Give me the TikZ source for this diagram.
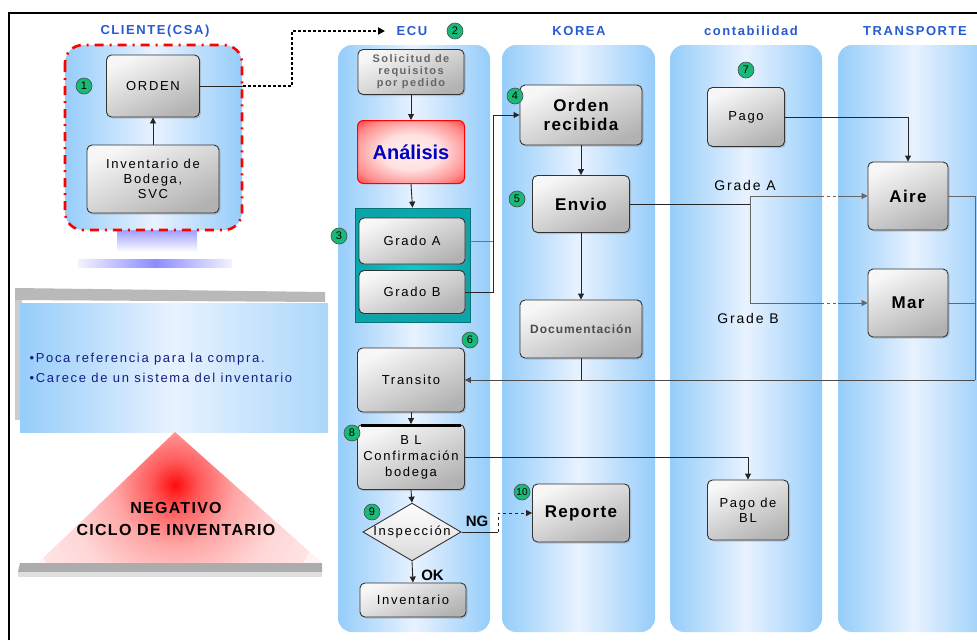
\documentclass[tikz,border=0pt]{standalone}
\usepackage{fontspec}
\setmainfont{Liberation Sans}
\newfontfamily\boxfont[LetterSpace=13]{Liberation Sans}
\newfontfamily\hdrfont[LetterSpace=12]{Liberation Sans}
\newfontfamily\boldfont[LetterSpace=8]{Liberation Sans}
\usetikzlibrary{shapes.geometric,arrows.meta,shadows,calc}
\definecolor{hdrblue}{RGB}{40,90,210}
\definecolor{laneedge}{RGB}{150,205,250}
\definecolor{lanemid}{RGB}{232,242,255}
\definecolor{marker}{RGB}{25,185,120}
\definecolor{notetext}{RGB}{20,30,130}
\definecolor{tealbox}{RGB}{10,165,170}
% glowing red fill for the analysis step
\pgfdeclareradialshading{redglow}{\pgfpoint{0bp}{0bp}}{%
  color(0bp)=(red!6); color(14bp)=(red!12); color(28bp)=(red!45);
  color(38bp)=(red!85); color(50bp)=(red)}
% soft red cloud inside the triangle
\pgfdeclareradialshading{redcloud}{\pgfpoint{0bp}{0bp}}{%
  color(0bp)=(red!95); color(4bp)=(red!65); color(10bp)=(red!35);
  color(18bp)=(red!16); color(30bp)=(red!7); color(50bp)=(white)}
\tikzset{
  lane/.style={rounded corners=14pt, left color=laneedge, right color=laneedge, middle color=lanemid},
  hdr/.style={font=\hdrfont\bfseries\fontsize{13}{14}\selectfont, text=hdrblue},
  box/.style={draw=black!80, line width=0.9pt, rounded corners=5pt,
    top color=gray!6, bottom color=gray!60, shading angle=25, align=center,
    font=\boxfont\fontsize{13}{15}\selectfont, inner sep=1pt,
    drop shadow={opacity=0.35, shadow xshift=1.5pt, shadow yshift=-1.5pt}},
  bigbox/.style={box, font=\boldfont\bfseries\fontsize{17}{19}\selectfont},
  num/.style={circle, fill=marker, draw=black!70, line width=0.6pt, inner sep=0pt,
    minimum size=16pt, font=\fontsize{11}{11}\selectfont},
  conn/.style={draw=black!85, line width=0.9pt},
  arr/.style={conn, -{Triangle[length=6pt,width=6pt]}},
  tag/.style={font=\boxfont\fontsize{14}{15}\selectfont},
  verdict/.style={font=\bfseries\fontsize{15}{15}\selectfont}
}
\begin{document}
\begin{tikzpicture}[x=1pt,y=-1pt]
\useasboundingbox (0,0) rectangle (977,640);
\fill[white] (0,0) rectangle (977,640);
% outer frame
\draw[line width=1.6pt] (9,640) -- (9,13) -- (977,13);

% swim lanes
\path[lane] (338,45) rectangle (490,632);
\path[lane] (502,45) rectangle (655,632);
\path[lane] (670,45) rectangle (822,632);
\path[lane] (838,45) rectangle (990,632);

% client area with pedestal
\shade[top color=blue!55, bottom color=white] (117,220) rectangle (197,252);
\shade[left color=blue!5, right color=blue!5, middle color=blue!45] (78,259) rectangle (232,267);
\path[lane, rounded corners=18pt, draw=red, line width=2.6pt, dash pattern=on 9pt off 6pt on 2pt off 6pt]
  (65,45) rectangle (242,230);

% headers
\node[hdr] (hcli) at (155,31) {CLIENTE(CSA)};
\node[hdr] (hecu) at (412,31) {ECU};
\node[hdr] (hkor) at (579,31) {KOREA};
\node[hdr] (hcon) at (751,31) {contabilidad};
\node[hdr] (htra) at (915,31) {TRANSPORTE};

% client boxes
\node[box, minimum width=93pt, minimum height=62pt] (orden) at (153,86) {ORDEN};
\node[box, minimum width=132pt, minimum height=68pt] (inv) at (153,179) {Inventario de\\Bodega,\\SVC};

% ECU column
\node[box, text=black!60, font=\boxfont\bfseries\fontsize{11}{12}\selectfont,
  minimum width=106pt, minimum height=45pt] (solic) at (411,72) {Solicitud de\\requisitos\\por pedido};
\node[draw=red, line width=1pt, rounded corners=6pt, shading=redglow,
  minimum width=107pt, minimum height=63pt, font=\bfseries\fontsize{20}{21}\selectfont, text=blue!75!black]
  (anal) at (411,152) {Análisis};
\node[draw=tealbox!70!black, line width=0.8pt, inner color=cyan!45!tealbox, outer color=tealbox,
  minimum width=115pt, minimum height=114pt] (grp) at (412.5,265) {};
\node[box, minimum width=106pt, minimum height=46pt] (gradoA) at (412,241) {Grado A};
\node[box, minimum width=106pt, minimum height=43pt] (gradoB) at (412,292) {Grado B};
\node[box, minimum width=107pt, minimum height=64pt] (transito) at (411,380) {Transito};
\node[box, minimum width=107pt, minimum height=65pt, font=\boxfont\fontsize{13}{16}\selectfont] (bl) at (411,457) {B L\\Confirmación\\bodega};
\draw[line width=3pt] ($(bl.north west)+(4,1.5)$) -- ($(bl.north east)+(-4,1.5)$);
\node[diamond, draw=black!80, line width=0.9pt, top color=white, bottom color=gray!30,
  minimum width=96pt, minimum height=56pt, inner sep=0pt, aspect=1.7,
  font=\boxfont\fontsize{13}{14}\selectfont] (insp) at (412,532) {Inspección};
\node[box, minimum width=106pt, minimum height=34pt] (invent) at (413,600) {Inventario};

% KOREA column
\node[bigbox, minimum width=122pt, minimum height=60pt] (ordrec) at (581,115) {Orden\\recibida};
\node[bigbox, minimum width=97pt, minimum height=57pt] (envio) at (581,204) {Envio};
\node[box, text=black!70, font=\boldfont\bfseries\fontsize{12}{13}\selectfont,
  minimum width=122pt, minimum height=58pt] (docu) at (581,329) {Documentación};
\node[bigbox, minimum width=97pt, minimum height=58pt] (reporte) at (581,513) {Reporte};

% contabilidad column
\node[box, minimum width=77pt, minimum height=59pt] (pago) at (746,117) {Pago};
\node[box, minimum width=81pt, minimum height=60pt] (pagobl) at (748,510) {Pago de\\BL};

% transporte column
\node[bigbox, minimum width=80pt, minimum height=68pt] (aire) at (908,196) {Aire};
\node[bigbox, minimum width=80pt, minimum height=68pt] (mar) at (908,303) {Mar};

% junction points
\coordinate (c1) at (243,86);
\coordinate (ecuin) at (385,31);
\coordinate (gB) at (493,292);
\coordinate (spA) at (750,196);
\coordinate (spB) at (750,303);
\coordinate (spE) at (750,204);
\coordinate (rt) at (975,380);
\coordinate (ngA) at (498,532);

% connectors
\draw[arr] (inv.north) -- (orden.south);
\draw[conn] (orden.east) -- (c1);
\draw[line width=2.2pt, dash pattern=on 3pt off 2pt, -{Triangle[length=7pt,width=7pt]}] (c1) -- (292,86) |- (ecuin);
\draw[arr] (solic.south) -- (anal.north);
\draw[arr] (anal.south) -- (grp.north);
\draw[draw=black!55, line width=0.9pt] (gradoA.east) -- (gradoA.east -| gB);
\draw[arr] (gradoB.east) -- (gB) |- (ordrec.west);
\draw[arr] (ordrec.south) -- (envio.north);
\draw[arr] (envio.south) -- (docu.north);
\draw[conn] (envio.east) -- (spE);
\draw[draw=black!60, line width=0.9pt] (spA) -- (spB);
\draw[arr, draw=black!60] (spA) -- (aire.west);
\draw[arr, draw=black!60] (spB) -- (mar.west);
\draw[white, line width=1.6pt, dash pattern=on 3pt off 3pt] (824,196) -- (838,196);
\draw[white, line width=1.6pt, dash pattern=on 3pt off 3pt] (824,303) -- (838,303);
\draw[arr] (pago.east) -| (aire.north);
\draw[draw=black!60, line width=0.9pt] (aire.east) -| (rt);
\draw[draw=black!60, line width=0.9pt] (mar.east) -- (mar.east -| rt);
\draw[arr, draw=black!70] (rt) -- (transito.east);
\draw[conn] (docu.south) -- (docu.south |- rt);
\draw[arr] (transito.south) -- (bl.north);
\draw[arr] (bl.east) -| (pagobl.north);
\draw[arr] (bl.south) -- (insp.north);
\draw[arr] (insp.south) -- node[right, xshift=5pt, yshift=-3pt, verdict] {OK} (invent.north);
\draw[conn] (insp.east) -- (ngA);
\draw[arr, dashed] (ngA) |- (reporte.west);
\node[verdict] (nglbl) at (477,521) {NG};

% branch labels
\node[tag] (ga) at (745,185) {Grade A};
\node[tag] (gbl) at (748,318) {Grade B};

% step markers
\node[num] (n1) at (84,86) {1};
\node[num] (n2) at (455,31) {2};
\node[num] (n3) at (339,236) {3};
\node[num] (n4) at (515,96) {4};
\node[num] (n5) at (517,199) {5};
\node[num] (n6) at (470,340) {6};
\node[num] (n7) at (746,70) {7};
\node[num] (n8) at (352,433) {8};
\node[num] (n9) at (372,512) {9};
\node[num, font=\fontsize{10}{10}\selectfont] (n10) at (522,492) {10};

% note panel
\fill[gray!55] (15,288) -- (325,292) -- (325,302) -- (15,300) -- cycle;
\fill[gray!40] (15,300) rectangle (22,420);
\shade[left color=laneedge, right color=laneedge!80, middle color=lanemid] (20,303) rectangle (328,432);
\node[anchor=west, text=notetext, font=\boxfont\fontsize{13}{20}\selectfont, align=left] (note) at (26,368)
  {•Poca referencia para la compra.\\•Carece de un sistema del inventario};

% negative cycle triangle
\begin{scope}
\clip (38,563) -- (175,432) -- (322,563) -- cycle;
\fill[red!5] (38,420) rectangle (322,570);
\shade[shading=redcloud] (175,485) circle (150);
\end{scope}
\node[font=\boldfont\bfseries\fontsize{16}{22}\selectfont, align=center] (neg) at (176,519) {NEGATIVO\\CICLO DE INVENTARIO};
\fill[gray!65] (20,563) -- (322,563) -- (322,572) -- (18,572) -- cycle;
\fill[gray!25] (18,572) rectangle (322,577);
\end{tikzpicture}
\end{document}
